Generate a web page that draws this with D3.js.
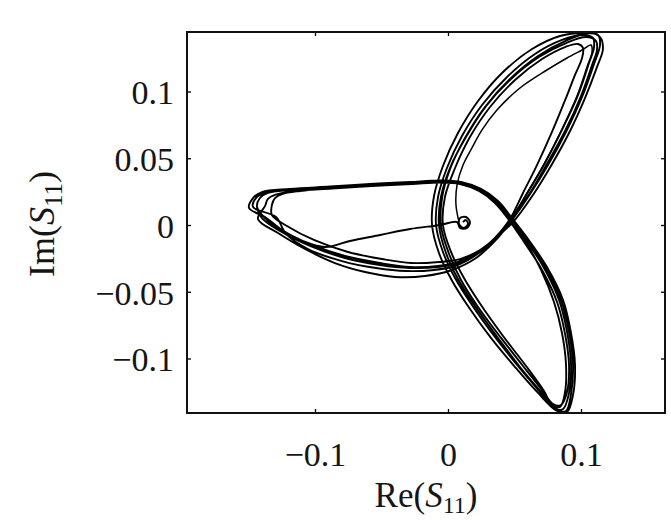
<!DOCTYPE html>
<html><head><meta charset="utf-8">
<script src="https://cdn.jsdelivr.net/npm/d3@7"></script>
<style>body{margin:0;background:#fff}</style>
</head><body>
<svg id="c" width="671" height="520"></svg>
<script>
// Trajectory of S11 in the complex plane (Re, Im)
const transient1 = [[0.0113,0.0022],[0.0135,0.0037],[0.0150,0.0007],[0.0120,-0.0022],[0.0083,0.0007],[0.0090,0.0052],[0.0135,0.0060],[0.0165,0.0022],[0.0143,-0.0022],[0.0090,-0.0022],[0.0068,0.0022],[-0.0060,0.0000],[-0.0286,-0.0030],[-0.0511,-0.0075],[-0.0737,-0.0120],[-0.0925,-0.0165],[-0.1113,-0.0112],[-0.1248,-0.0045],[-0.1376,0.0052]];
const transient2 = [[0.0083,0.0022],[0.0060,0.0150],[0.0068,0.0300],[0.0113,0.0449],[0.0180,0.0577],[0.0256,0.0712],[0.0368,0.0861],[0.0541,0.1026],[0.0744,0.1161],[0.0895,0.1251],[0.1008,0.1311],[0.1075,0.1348],[0.1083,0.1296],[0.1045,0.1183],[0.0970,0.0966],[0.0850,0.0704],[0.0722,0.0457],[0.0594,0.0240],[0.0474,0.0045],[0.0361,-0.0090]];
const loopA = [[-0.1436,0.0135],[-0.1414,0.0202],[-0.1354,0.0240],[-0.1188,0.0262],[-0.0887,0.0281],[-0.0587,0.0300],[-0.0286,0.0315],[-0.0060,0.0326],[0.0090,0.0315],[0.0241,0.0262],[0.0368,0.0172],[0.0474,0.0045],[0.0587,-0.0112],[0.0722,-0.0322],[0.0835,-0.0562],[0.0895,-0.0801],[0.0925,-0.1041],[0.0910,-0.1258],[0.0865,-0.1378],[0.0805,-0.1378],[0.0692,-0.1251],[0.0526,-0.1056],[0.0353,-0.0839],[0.0180,-0.0599],[0.0053,-0.0397],[-0.0038,-0.0202],[-0.0090,0.0000],[-0.0075,0.0210],[-0.0008,0.0427],[0.0105,0.0667],[0.0256,0.0899],[0.0444,0.1109],[0.0654,0.1281],[0.0857,0.1386],[0.1015,0.1423],[0.1090,0.1401],[0.1098,0.1333],[0.1060,0.1213],[0.0978,0.0974],[0.0857,0.0712],[0.0729,0.0464],[0.0602,0.0247],[0.0474,0.0045],[0.0361,-0.0090],[0.0226,-0.0202],[0.0075,-0.0277],[-0.0075,-0.0307],[-0.0286,-0.0315],[-0.0511,-0.0285],[-0.0775,-0.0232],[-0.1038,-0.0142],[-0.1248,-0.0037],[-0.1376,0.0060]];
const loopB = [[-0.1496,0.0127],[-0.1466,0.0202],[-0.1399,0.0247],[-0.1188,0.0270],[-0.0887,0.0288],[-0.0587,0.0307],[-0.0286,0.0322],[-0.0060,0.0333],[0.0098,0.0322],[0.0248,0.0270],[0.0376,0.0180],[0.0481,0.0052],[0.0602,-0.0105],[0.0744,-0.0315],[0.0865,-0.0562],[0.0925,-0.0809],[0.0955,-0.1049],[0.0940,-0.1273],[0.0895,-0.1401],[0.0820,-0.1393],[0.0677,-0.1258],[0.0504,-0.1064],[0.0323,-0.0846],[0.0150,-0.0607],[0.0023,-0.0404],[-0.0068,-0.0210],[-0.0120,0.0000],[-0.0105,0.0217],[-0.0038,0.0442],[0.0075,0.0689],[0.0226,0.0929],[0.0414,0.1146],[0.0632,0.1318],[0.0842,0.1416],[0.1030,0.1438],[0.1128,0.1423],[0.1143,0.1348],[0.1098,0.1206],[0.1008,0.0959],[0.0887,0.0697],[0.0752,0.0449],[0.0617,0.0232],[0.0481,0.0037],[0.0361,-0.0112],[0.0211,-0.0247],[0.0030,-0.0337],[-0.0173,-0.0382],[-0.0399,-0.0389],[-0.0624,-0.0352],[-0.0850,-0.0285],[-0.1075,-0.0180],[-0.1278,-0.0060],[-0.1429,0.0045]];
const loopC = [[-0.1376,0.0142],[-0.1354,0.0195],[-0.1301,0.0225],[-0.1151,0.0255],[-0.0872,0.0273],[-0.0572,0.0292],[-0.0271,0.0307],[-0.0053,0.0318],[0.0090,0.0307],[0.0233,0.0255],[0.0353,0.0165],[0.0459,0.0037],[0.0572,-0.0127],[0.0707,-0.0337],[0.0820,-0.0577],[0.0880,-0.0816],[0.0910,-0.1049],[0.0895,-0.1251],[0.0850,-0.1348],[0.0790,-0.1341],[0.0707,-0.1236],[0.0564,-0.1056],[0.0399,-0.0846],[0.0226,-0.0614],[0.0098,-0.0412],[0.0008,-0.0217],[-0.0053,-0.0007],[-0.0045,0.0202],[0.0015,0.0419],[0.0128,0.0652],[0.0278,0.0884],[0.0466,0.1094],[0.0677,0.1266],[0.0880,0.1378],[0.1068,0.1438],[0.1143,0.1408],[0.1165,0.1318],[0.1120,0.1183],[0.1030,0.0951],[0.0910,0.0689],[0.0774,0.0442],[0.0639,0.0225],[0.0496,0.0030],[0.0376,-0.0082],[0.0241,-0.0187],[0.0090,-0.0255],[-0.0068,-0.0277],[-0.0278,-0.0285],[-0.0496,-0.0255],[-0.0752,-0.0202],[-0.1008,-0.0112],[-0.1211,-0.0007],[-0.1324,0.0075]];
const loopD = [[-0.1324,0.0150],[-0.1301,0.0202],[-0.1248,0.0232],[-0.1113,0.0255],[-0.0850,0.0277],[-0.0549,0.0296],[-0.0263,0.0311],[-0.0053,0.0322],[0.0090,0.0311],[0.0233,0.0258],[0.0361,0.0169],[0.0466,0.0041],[0.0580,-0.0120],[0.0700,-0.0337],[0.0797,-0.0577],[0.0857,-0.0809],[0.0887,-0.1041],[0.0880,-0.1251],[0.0842,-0.1363],[0.0782,-0.1348],[0.0722,-0.1243],[0.0587,-0.1056],[0.0414,-0.0831],[0.0248,-0.0599],[0.0120,-0.0397],[0.0023,-0.0202],[-0.0038,0.0000],[-0.0023,0.0210],[0.0053,0.0427],[0.0165,0.0659],[0.0316,0.0884],[0.0504,0.1086],[0.0707,0.1243],[0.0880,0.1333],[0.0978,0.1356],[0.1015,0.1326],[0.1008,0.1251],[0.0955,0.1124],[0.0887,0.0951],[0.0782,0.0697],[0.0669,0.0449],[0.0564,0.0240],[0.0466,0.0045],[0.0346,-0.0105],[0.0211,-0.0225],[0.0053,-0.0307],[-0.0105,-0.0337],[-0.0316,-0.0345],[-0.0541,-0.0322],[-0.0797,-0.0270],[-0.1053,-0.0180],[-0.1218,-0.0067],[-0.1293,0.0060]];
const loopE = [[-0.1466,0.0135],[-0.1444,0.0202],[-0.1376,0.0240],[-0.1188,0.0266],[-0.0887,0.0285],[-0.0587,0.0303],[-0.0286,0.0318],[-0.0060,0.0330],[0.0090,0.0318],[0.0241,0.0266],[0.0368,0.0176],[0.0474,0.0049],[0.0594,-0.0112],[0.0737,-0.0322],[0.0850,-0.0562],[0.0910,-0.0801],[0.0940,-0.1041],[0.0925,-0.1266],[0.0887,-0.1393],[0.0827,-0.1386],[0.0707,-0.1258],[0.0541,-0.1064],[0.0376,-0.0846],[0.0203,-0.0607],[0.0075,-0.0404],[-0.0015,-0.0210],[-0.0068,0.0000],[-0.0053,0.0210],[0.0015,0.0427],[0.0135,0.0659],[0.0286,0.0891],[0.0474,0.1094],[0.0684,0.1258],[0.0887,0.1363],[0.1038,0.1408],[0.1113,0.1378],[0.1120,0.1311],[0.1083,0.1198],[0.1000,0.0966],[0.0880,0.0704],[0.0744,0.0457],[0.0617,0.0240],[0.0481,0.0045],[0.0368,-0.0090],[0.0233,-0.0210],[0.0083,-0.0285],[-0.0075,-0.0315],[-0.0286,-0.0322],[-0.0511,-0.0300],[-0.0775,-0.0247],[-0.1038,-0.0157],[-0.1263,-0.0045],[-0.1399,0.0052],[-0.1436,0.0127]];

const xTickValues = [-0.1, 0, 0.1];
const xTickLabels = ["\u22120.1", "0", "0.1"];
const yTickValues = [-0.1, -0.05, 0, 0.05, 0.1];
const yTickLabels = ["\u22120.1", "\u22120.05", "0", "0.05", "0.1"];

const box = {left:187, right:665, top:32, bottom:413};
const xDomain = [-0.19624, 0.16316];
const yDomain = [-0.14082, 0.14457];

const svg = d3.select("#c");
const x = d3.scaleLinear().domain(xDomain).range([box.left, box.right]);
const y = d3.scaleLinear().domain(yDomain).range([box.bottom, box.top]);

svg.append("rect").attr("width",671).attr("height",520).attr("fill","#fff");

svg.append("clipPath").attr("id","clip").append("rect")
  .attr("x",box.left).attr("y",box.top).attr("width",box.right-box.left).attr("height",box.bottom-box.top);

const line = d3.line().x(d=>x(d[0])).y(d=>y(d[1])).curve(d3.curveCatmullRom.alpha(0.5));
const trajectory = [].concat(transient1, loopA, loopB, loopC, loopD, loopE);
const gPlot = svg.append("g").attr("clip-path","url(#clip)");
gPlot.append("path").attr("d", line(trajectory)).attr("fill","none").attr("stroke","#000").attr("stroke-width",1.9).attr("stroke-linejoin","round");
gPlot.append("path").attr("d", line(transient2)).attr("fill","none").attr("stroke","#000").attr("stroke-width",1.5);

const FONT = "'Liberation Serif', 'Times New Roman', serif";

function styleAxis(g){
  g.select(".domain").remove();
  g.selectAll(".tick line").attr("stroke","#000").attr("stroke-width",1.3);
  g.attr("font-family", FONT).attr("font-size", 34);
  g.selectAll(".tick text").attr("fill","#151515");
}

const gB = svg.append("g").attr("transform",`translate(0,${box.bottom})`)
  .call(d3.axisBottom(x).tickValues(xTickValues).tickFormat((d,i)=>xTickLabels[i]).tickSizeInner(-4).tickSizeOuter(0).tickPadding(29));
styleAxis(gB);

const gT = svg.append("g").attr("transform",`translate(0,${box.top})`)
  .call(d3.axisTop(x).tickValues(xTickValues).tickFormat("").tickSizeInner(-4).tickSizeOuter(0));
styleAxis(gT);

const gL = svg.append("g").attr("transform",`translate(${box.left},0)`)
  .call(d3.axisLeft(y).tickValues(yTickValues).tickFormat((d,i)=>yTickLabels[i]).tickSizeInner(-4).tickSizeOuter(0).tickPadding(13));
styleAxis(gL);
gL.selectAll(".tick text").attr("dy","0.36em");

const gR = svg.append("g").attr("transform",`translate(${box.right},0)`)
  .call(d3.axisRight(y).tickValues(yTickValues).tickFormat("").tickSizeInner(-4).tickSizeOuter(0));
styleAxis(gR);

svg.append("rect").attr("x",box.left).attr("y",box.top).attr("width",box.right-box.left).attr("height",box.bottom-box.top)
  .attr("fill","none").attr("stroke","#111").attr("stroke-width",2);

// axis titles
const tx = svg.append("text").attr("x",426).attr("y",507)
  .attr("font-family",FONT).attr("font-size",35).attr("text-anchor","middle").attr("fill","#151515");
tx.append("tspan").text("Re(");
tx.append("tspan").attr("font-style","italic").text("S");
tx.append("tspan").attr("font-size",24).attr("dy",6).text("11");
tx.append("tspan").attr("dy",-6).text(")");

const ty = svg.append("text").attr("transform","translate(54,224) rotate(-90)")
  .attr("font-family",FONT).attr("font-size",36).attr("text-anchor","middle").attr("fill","#151515");
ty.append("tspan").text("Im(");
ty.append("tspan").attr("font-style","italic").text("S");
ty.append("tspan").attr("font-size",25).attr("dy",8).text("11");
ty.append("tspan").attr("dy",-8).text(")");
</script>
</body></html>
